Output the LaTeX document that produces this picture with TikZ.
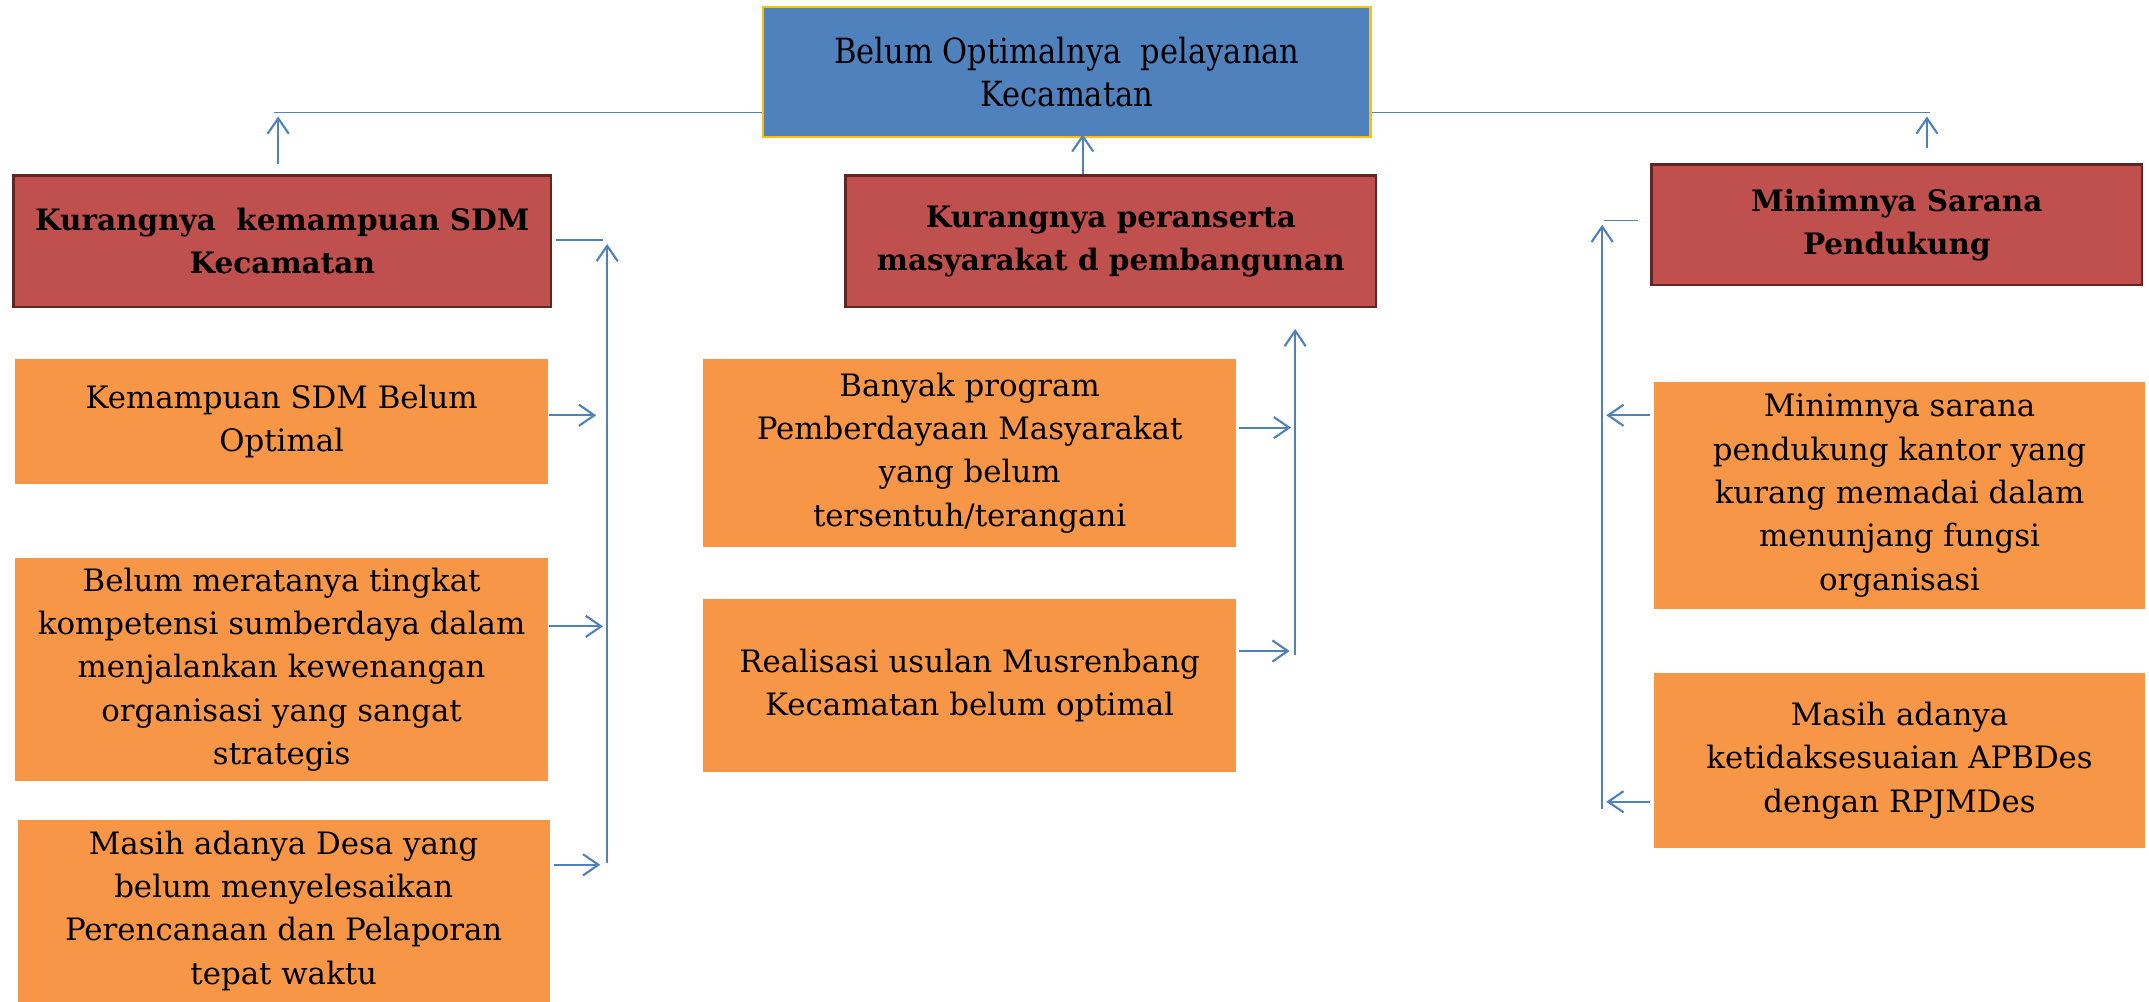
\documentclass[tikz,border=0pt]{standalone}
\usepackage{fontspec}
\setmainfont{DejaVu Serif}
\newfontfamily\judulfont[FakeStretch=0.88]{DejaVu Serif}
\usetikzlibrary{arrows.meta}
\definecolor{biru}{HTML}{4F81BD}
\definecolor{emas}{HTML}{FFC000}
\definecolor{merah}{HTML}{C0504D}
\definecolor{merahtua}{HTML}{632523}
\definecolor{oranye}{HTML}{F79646}
\begin{document}
\begin{tikzpicture}[x=0.025cm, y=-0.025cm,
    utama/.style={draw=emas, line width=1.2pt, fill=biru, align=center, minimum width=11.075cm, minimum height=2.375cm, font=\judulfont\fontsize{18}{22.5}\selectfont},
    masalah/.style={draw=merahtua, line width=1.2pt, fill=merah, align=center, font=\bfseries\fontsize{15.3}{22.5}\selectfont},
    sebab/.style={fill=oranye, align=center, font=\fontsize{16}{22.5}\selectfont},
    garis/.style={draw=biru, line width=0.7pt},
    panah/.style={draw=biru, line width=1.1pt, -{Straight Barb[length=8pt,width=11pt]}}]
    \useasboundingbox (0,0) rectangle (1568,731);

    % Kotak utama
    \node[utama] (top) at (778.5,52.5) {Belum Optimalnya\ \ pelayanan\\Kecamatan};

    % Kotak masalah
    \node[masalah, minimum width=9.8cm, minimum height=2.4cm] (r1) at (206,176) {Kurangnya\ \ kemampuan SDM\\Kecamatan};
    \node[masalah, minimum width=9.675cm, minimum height=2.4cm] (r2) at (810.5,176) {Kurangnya peranserta\\masyarakat d pembangunan};
    \node[masalah, minimum width=8.95cm, minimum height=2.2cm] (r3) at (1384,164) {Minimnya Sarana\\Pendukung};

    % Kotak penyebab
    \node[sebab, minimum width=9.725cm, minimum height=2.275cm] (o1) at (205.5,307.5) {Kemampuan SDM Belum\\Optimal};
    \node[sebab, minimum width=9.725cm, minimum height=4.075cm] (o2) at (205.5,488.5) {Belum meratanya tingkat\\kompetensi sumberdaya dalam\\menjalankan kewenangan\\organisasi yang sangat\\strategis};
    \node[sebab, minimum width=9.7cm, minimum height=3.325cm] (o3) at (207,664.5) {Masih adanya Desa yang\\belum menyelesaikan\\Perencanaan dan Pelaporan\\tepat waktu};
    \node[sebab, minimum width=9.725cm, minimum height=3.425cm] (o4) at (707.5,330.5) {Banyak program\\Pemberdayaan Masyarakat\\yang belum\\tersentuh/terangani};
    \node[sebab, minimum width=9.725cm, minimum height=3.15cm] (o5) at (707.5,500) {Realisasi usulan Musrenbang\\Kecamatan belum optimal};
    \node[sebab, minimum width=8.95cm, minimum height=4.125cm] (o6) at (1386,361.5) {Minimnya sarana\\pendukung kantor yang\\kurang memadai dalam\\menunjang fungsi\\organisasi};
    \node[sebab, minimum width=8.95cm, minimum height=3.2cm] (o7) at (1386,555) {Masih adanya\\ketidaksesuaian APBDes\\dengan RPJMDes};

    % Titik bantu
    \coordinate (kiri) at (200,82);
    \coordinate (kanan) at (1408,82);
    \coordinate (pk1) at (203,120);
    \coordinate (pk2) at (203,85);
    \coordinate (pn1) at (1406,108);
    \coordinate (pn2) at (1406,85);
    \coordinate (mt) at (790,98);
    \coordinate (lbh) at (440,175);
    \coordinate (lbt) at (443,178);
    \coordinate (lbb) at (443,630);
    \coordinate (la1) at (435,303);
    \coordinate (la2) at (440,457);
    \coordinate (la3) at (438,631);
    \coordinate (mbt) at (945,240);
    \coordinate (mbb) at (945,478);
    \coordinate (ma1) at (942,312);
    \coordinate (ma2) at (941,475);
    \coordinate (rbh1) at (1170,161);
    \coordinate (rbh2) at (1195,161);
    \coordinate (rbt) at (1169,164);
    \coordinate (rbb) at (1169,590);
    \coordinate (ra1) at (1172,303);
    \coordinate (ra2) at (1172,585);

    % Garis atas
    \draw[garis] (top.west |- kiri) -- (kiri);
    \draw[garis] (top.east |- kanan) -- (kanan);
    \draw[panah] (pk1) -- (pk2);
    \draw[panah] (pn1) -- (pn2);
    \draw[panah] (r2.north -| mt) -- (mt);

    % Kelompok kiri
    \draw[garis] ([xshift=2pt]r1.east |- lbh) -- (lbh);
    \draw[panah] (lbb) -- (lbt);
    \draw[panah] (o1.east |- la1) -- (la1);
    \draw[panah] (o2.east |- la2) -- (la2);
    \draw[panah] ([xshift=2pt]o3.east |- la3) -- (la3);

    % Kelompok tengah
    \draw[panah] (mbb) -- (mbt);
    \draw[panah] ([xshift=1pt]o4.east |- ma1) -- (ma1);
    \draw[panah] ([xshift=1pt]o5.east |- ma2) -- (ma2);

    % Kelompok kanan
    \draw[garis] (rbh1) -- (rbh2);
    \draw[panah] (rbb) -- (rbt);
    \draw[panah] ([xshift=-2pt]o6.west |- ra1) -- (ra1);
    \draw[panah] ([xshift=-2pt]o7.west |- ra2) -- (ra2);
\end{tikzpicture}
\end{document}
